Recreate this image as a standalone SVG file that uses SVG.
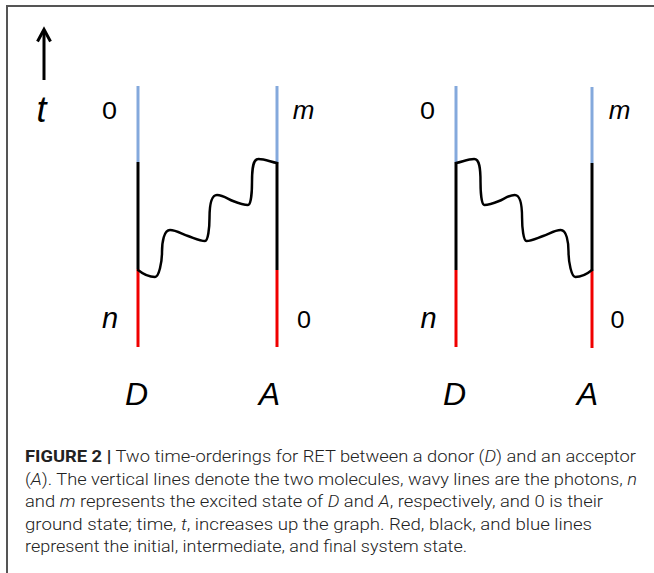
<svg xmlns="http://www.w3.org/2000/svg" width="654" height="573" viewBox="0 0 654 573">
<style>
.frame{stroke:#555;stroke-width:2;fill:none}
.blue{stroke:#84A9DC;stroke-width:3}
.blk{stroke:#000;stroke-width:3}
.red{stroke:#F00000;stroke-width:3}
.wave{stroke:#000;stroke-width:2.5;fill:none;stroke-linecap:round}
.lbl{font-family:"Liberation Sans",Arial,sans-serif;fill:#000;text-anchor:middle}
.num{font-family:"Liberation Sans",Arial,sans-serif;fill:#000;font-size:23px}
.it{font-style:italic}
.cap{font-family:Roboto,"Liberation Sans",Arial,sans-serif;font-weight:300;font-size:17px;fill:#222}
.b{font-weight:700}
</style>
<defs>
<path id="wv" d="M138,270 C143,274 149,277 155,277 C159,277 162,262 162,252 C162,242 164,230 170,230 C176,230 182,234 188,236 C194,238 200,241 205,241 C208,241 209.5,228 209.5,218 C209.5,205 211,195 217,195 C223,195 228,199 233,201 C238,203 244,205 248,205 C251,205 252,192 252,182 C252,168 253,159 258.5,159 C265,159 271,162 277,163"/>
</defs>
<rect x="0" y="0" width="654" height="573" fill="#fff"/>
<path class="frame" d="M7,573 V6 H654"/>
<g id="time-axis">
<line x1="44" y1="80" x2="44" y2="31" stroke="#000" stroke-width="3"/>
<polyline points="37.5,41.5 44,29.5 50.5,41.5" fill="none" stroke="#000" stroke-width="3"/>
<text class="lbl it" x="41.5" y="122" font-size="36">t</text>
</g>
<g id="left-D">
<line class="blue" x1="138" y1="86" x2="138" y2="162"/>
<line class="blk" x1="138" y1="162" x2="138" y2="269"/>
<line class="red" x1="138" y1="269" x2="138" y2="347"/>
<text class="num" x="102" y="119" textLength="15" lengthAdjust="spacingAndGlyphs">0</text>
<text class="lbl it" x="110" y="328" font-size="29">n</text>
<text class="lbl it" x="136.5" y="405" font-size="32">D</text>
</g>
<g id="left-A">
<line class="blue" x1="277" y1="86" x2="277" y2="162"/>
<line class="blk" x1="277" y1="162" x2="277" y2="270"/>
<line class="red" x1="277" y1="270" x2="277" y2="347"/>
<text class="lbl it" x="303.5" y="119" font-size="26">m</text>
<text class="num" x="297" y="328" textLength="14" lengthAdjust="spacingAndGlyphs">0</text>
<text class="lbl it" x="269.5" y="405" font-size="32">A</text>
</g>
<g id="right-D">
<line class="blue" x1="456" y1="86" x2="456" y2="162"/>
<line class="blk" x1="456" y1="162" x2="456" y2="270"/>
<line class="red" x1="456" y1="270" x2="456" y2="347"/>
<text class="num" x="420" y="119" textLength="15" lengthAdjust="spacingAndGlyphs">0</text>
<text class="lbl it" x="428.5" y="328" font-size="29">n</text>
<text class="lbl it" x="454.5" y="405" font-size="32">D</text>
</g>
<g id="right-A">
<line class="blue" x1="592" y1="87" x2="592" y2="163"/>
<line class="blk" x1="592" y1="163" x2="592" y2="271"/>
<line class="red" x1="592" y1="271" x2="592" y2="348"/>
<text class="lbl it" x="619.5" y="119" font-size="26">m</text>
<text class="num" x="610.5" y="328" textLength="14" lengthAdjust="spacingAndGlyphs">0</text>
<text class="lbl it" x="587.5" y="405" font-size="32">A</text>
</g>
<g id="connectors">
<use href="#wv" class="wave"/>
<use href="#wv" class="wave" transform="translate(592,0) scale(-0.978,1) translate(-138,0)"/>
</g>
<g id="caption" class="cap">
<text x="25" y="462" textLength="611" lengthAdjust="spacingAndGlyphs"><tspan class="b">FIGURE 2 |</tspan> Two time-orderings for RET between a donor (<tspan class="it">D</tspan>) and an acceptor</text>
<text x="25" y="484.5" textLength="612" lengthAdjust="spacingAndGlyphs">(<tspan class="it">A</tspan>). The vertical lines denote the two molecules, wavy lines are the photons, <tspan class="it">n</tspan></text>
<text x="25" y="507" textLength="578" lengthAdjust="spacingAndGlyphs">and <tspan class="it">m</tspan> represents the excited state of <tspan class="it">D</tspan> and <tspan class="it">A</tspan>, respectively, and 0 is their</text>
<text x="25" y="529.5" textLength="567" lengthAdjust="spacingAndGlyphs">ground state; time, <tspan class="it">t</tspan>, increases up the graph. Red, black, and blue lines</text>
<text x="25" y="552" textLength="442" lengthAdjust="spacingAndGlyphs">represent the initial, intermediate, and final system state.</text>
</g>
</svg>
